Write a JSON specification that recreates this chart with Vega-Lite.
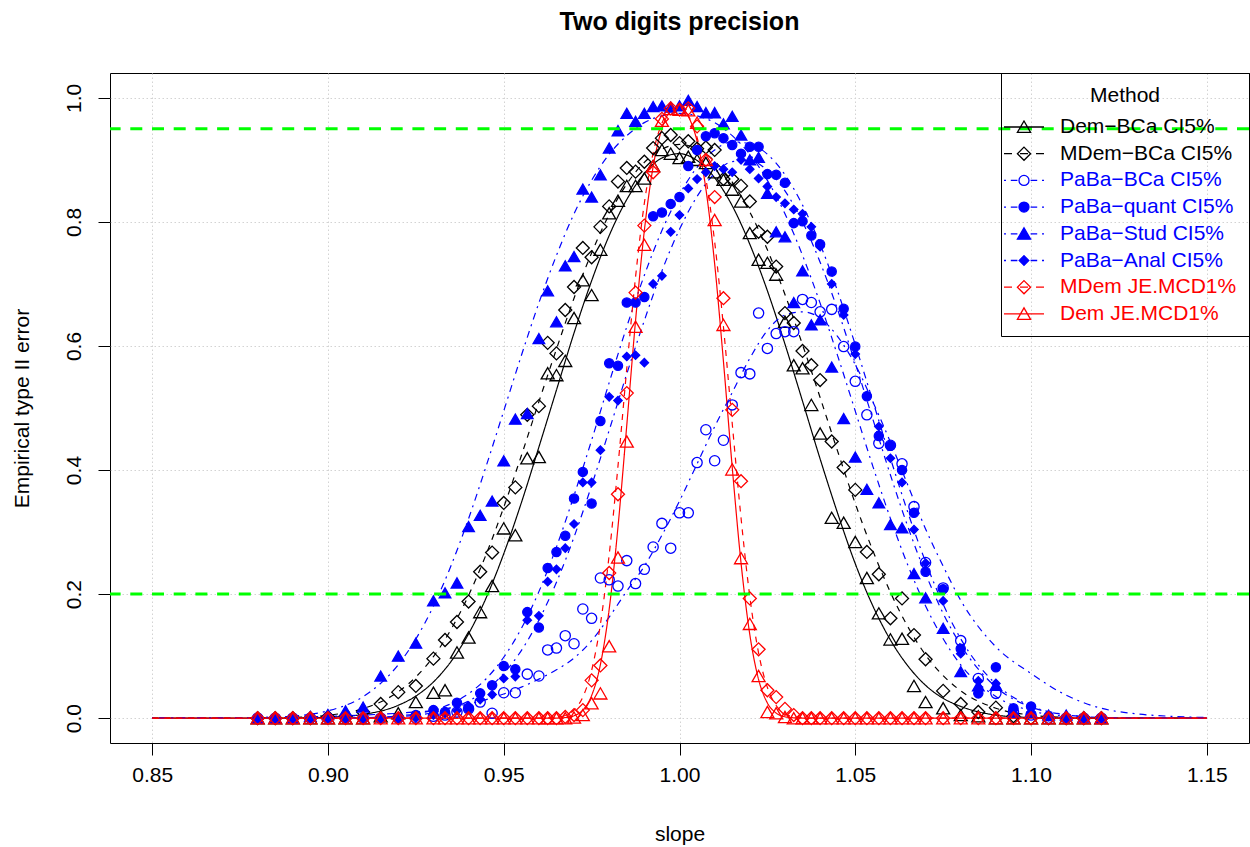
{
  "$schema": "https://vega.github.io/schema/vega-lite/v6.json",
  "width": 1139,
  "height": 670,
  "autosize": {"type": "none"},
  "padding": {"left": 110, "top": 73, "right": 1, "bottom": 104},
  "background": "white",
  "title": {"text": "Two digits precision", "fontSize": 25, "fontWeight": "bold", "font": "Liberation Sans", "color": "black", "anchor": "middle", "frame": "group", "baseline": "alphabetic", "offset": 18},
  "datasets": {
    "pts": [
      {"x":0.88,"a":0,"b":0,"c":0,"d":0,"e":0,"f":0,"g":0,"h":0},
      {"x":0.885,"a":0,"b":0,"c":0,"d":0,"e":0,"f":0,"g":0,"h":0},
      {"x":0.89,"a":0,"b":0,"c":0,"d":0,"e":0,"f":0,"g":0,"h":0},
      {"x":0.895,"a":0,"b":0,"c":0,"d":0,"e":0.003,"f":0,"g":0,"h":0},
      {"x":0.9,"a":0,"b":0.002,"c":0,"d":0,"e":0.006,"f":0,"g":0,"h":0},
      {"x":0.905,"a":0,"b":0.003,"c":0,"d":0,"e":0.012,"f":0,"g":0,"h":0},
      {"x":0.91,"a":0,"b":0.01,"c":0,"d":0,"e":0.018,"f":0,"g":0,"h":0},
      {"x":0.915,"a":0.003,"b":0.023,"c":0,"d":0,"e":0.068,"f":0,"g":0,"h":0},
      {"x":0.92,"a":0.008,"b":0.042,"c":0,"d":0,"e":0.1,"f":0,"g":0,"h":0},
      {"x":0.925,"a":0.026,"b":0.052,"c":0,"d":0.005,"e":0.121,"f":0,"g":0,"h":0},
      {"x":0.93,"a":0.041,"b":0.096,"c":0.003,"d":0.013,"e":0.189,"f":0.005,"g":0,"h":0},
      {"x":0.9333,"a":0.045,"b":0.126,"c":0.005,"d":0.01,"e":0.202,"f":0.008,"g":0,"h":0},
      {"x":0.9367,"a":0.106,"b":0.155,"c":0.01,"d":0.025,"e":0.218,"f":0.012,"g":0,"h":0},
      {"x":0.94,"a":0.13,"b":0.188,"c":0.015,"d":0.016,"e":0.309,"f":0.02,"g":0,"h":0},
      {"x":0.9433,"a":0.171,"b":0.236,"c":0.026,"d":0.04,"e":0.327,"f":0.03,"g":0,"h":0},
      {"x":0.9467,"a":0.213,"b":0.267,"c":0.008,"d":0.053,"e":0.35,"f":0.038,"g":0,"h":0},
      {"x":0.95,"a":0.306,"b":0.347,"c":0.041,"d":0.084,"e":0.415,"f":0.064,"g":0,"h":0},
      {"x":0.9533,"a":0.295,"b":0.372,"c":0.041,"d":0.079,"e":0.482,"f":0.067,"g":0,"h":0},
      {"x":0.9567,"a":0.419,"b":0.489,"c":0.071,"d":0.171,"e":0.491,"f":0.158,"g":0,"h":0},
      {"x":0.96,"a":0.421,"b":0.503,"c":0.068,"d":0.146,"e":0.612,"f":0.165,"g":0,"h":0},
      {"x":0.9625,"a":0.556,"b":0.605,"c":0.11,"d":0.242,"e":0.689,"f":0.22,"g":0,"h":0},
      {"x":0.965,"a":0.553,"b":0.588,"c":0.113,"d":0.268,"e":0.639,"f":0.24,"g":0,"h":0},
      {"x":0.9675,"a":0.576,"b":0.658,"c":0.133,"d":0.294,"e":0.729,"f":0.274,"g":0.002,"h":0},
      {"x":0.97,"a":0.645,"b":0.695,"c":0.12,"d":0.354,"e":0.744,"f":0.313,"g":0.005,"h":0.001},
      {"x":0.9725,"a":0.706,"b":0.758,"c":0.176,"d":0.397,"e":0.853,"f":0.38,"g":0.013,"h":0.005},
      {"x":0.975,"a":0.682,"b":0.743,"c":0.161,"d":0.346,"e":0.84,"f":0.38,"g":0.061,"h":0.024},
      {"x":0.9775,"a":0.755,"b":0.792,"c":0.226,"d":0.479,"e":0.876,"f":0.432,"g":0.085,"h":0.04},
      {"x":0.98,"a":0.814,"b":0.825,"c":0.223,"d":0.572,"e":0.919,"f":0.518,"g":0.234,"h":0.116},
      {"x":0.9825,"a":0.834,"b":0.865,"c":0.213,"d":0.568,"e":0.947,"f":0.512,"g":0.361,"h":0.259},
      {"x":0.985,"a":0.858,"b":0.887,"c":0.254,"d":0.67,"e":0.975,"f":0.583,"g":0.524,"h":0.446},
      {"x":0.9875,"a":0.858,"b":0.881,"c":0.217,"d":0.67,"e":0.962,"f":0.585,"g":0.686,"h":0.631},
      {"x":0.99,"a":0.87,"b":0.897,"c":0.24,"d":0.679,"e":0.975,"f":0.573,"g":0.794,"h":0.763},
      {"x":0.9925,"a":0.89,"b":0.919,"c":0.276,"d":0.809,"e":0.986,"f":0.7,"g":0.88,"h":0.89},
      {"x":0.995,"a":0.916,"b":0.935,"c":0.314,"d":0.815,"e":0.987,"f":0.713,"g":0.966,"h":0.963},
      {"x":0.9975,"a":0.91,"b":0.94,"c":0.274,"d":0.829,"e":0.985,"f":0.784,"g":0.983,"h":0.982},
      {"x":1.0,"a":0.903,"b":0.927,"c":0.331,"d":0.84,"e":0.987,"f":0.811,"g":0.981,"h":0.981},
      {"x":1.0025,"a":0.905,"b":0.93,"c":0.331,"d":0.89,"e":0.996,"f":0.854,"g":0.983,"h":0.98},
      {"x":1.005,"a":0.9,"b":0.918,"c":0.412,"d":0.916,"e":0.986,"f":0.869,"g":0.954,"h":0.96},
      {"x":1.0075,"a":0.895,"b":0.92,"c":0.465,"d":0.938,"e":0.976,"f":0.88,"g":0.9,"h":0.9},
      {"x":1.01,"a":0.88,"b":0.916,"c":0.415,"d":0.943,"e":0.976,"f":0.89,"g":0.84,"h":0.803},
      {"x":1.0125,"a":0.868,"b":0.869,"c":0.448,"d":0.935,"e":0.958,"f":0.885,"g":0.677,"h":0.634},
      {"x":1.015,"a":0.852,"b":0.869,"c":0.505,"d":0.924,"e":0.97,"f":0.88,"g":0.497,"h":0.401},
      {"x":1.0175,"a":0.833,"b":0.858,"c":0.557,"d":0.91,"e":0.94,"f":0.9,"g":0.382,"h":0.258},
      {"x":1.02,"a":0.782,"b":0.833,"c":0.555,"d":0.921,"e":0.9,"f":0.885,"g":0.193,"h":0.152},
      {"x":1.0225,"a":0.739,"b":0.784,"c":0.653,"d":0.921,"e":0.904,"f":0.87,"g":0.111,"h":0.068},
      {"x":1.025,"a":0.734,"b":0.776,"c":0.596,"d":0.877,"e":0.846,"f":0.857,"g":0.045,"h":0.01},
      {"x":1.0275,"a":0.715,"b":0.728,"c":0.62,"d":0.876,"e":0.784,"f":0.84,"g":0.034,"h":0.008},
      {"x":1.03,"a":0.639,"b":0.653,"c":0.623,"d":0.863,"e":0.776,"f":0.83,"g":0.015,"h":0.002},
      {"x":1.0325,"a":0.569,"b":0.637,"c":0.623,"d":0.798,"e":0.67,"f":0.82,"g":0.005,"h":0},
      {"x":1.035,"a":0.564,"b":0.592,"c":0.675,"d":0.801,"e":0.721,"f":0.813,"g":0,"h":0},
      {"x":1.0375,"a":0.505,"b":0.569,"c":0.67,"d":0.778,"e":0.634,"f":0.792,"g":0,"h":0},
      {"x":1.04,"a":0.459,"b":0.545,"c":0.655,"d":0.764,"e":0.642,"f":0.76,"g":0,"h":0},
      {"x":1.0433,"a":0.323,"b":0.446,"c":0.659,"d":0.72,"e":0.566,"f":0.7,"g":0,"h":0},
      {"x":1.0467,"a":0.315,"b":0.404,"c":0.599,"d":0.66,"e":0.483,"f":0.65,"g":0,"h":0},
      {"x":1.05,"a":0.284,"b":0.368,"c":0.543,"d":0.599,"e":0.421,"f":0.587,"g":0,"h":0},
      {"x":1.0533,"a":0.226,"b":0.268,"c":0.489,"d":0.519,"e":0.369,"f":0.52,"g":0,"h":0},
      {"x":1.0567,"a":0.169,"b":0.232,"c":0.443,"d":0.455,"e":0.347,"f":0.47,"g":0,"h":0},
      {"x":1.06,"a":0.127,"b":0.161,"c":0.44,"d":0.439,"e":0.312,"f":0.419,"g":0,"h":0},
      {"x":1.0633,"a":0.128,"b":0.193,"c":0.41,"d":0.4,"e":0.307,"f":0.38,"g":0,"h":0},
      {"x":1.0667,"a":0.052,"b":0.134,"c":0.341,"d":0.331,"e":0.233,"f":0.304,"g":0,"h":0},
      {"x":1.07,"a":0.026,"b":0.095,"c":0.251,"d":0.236,"e":0.194,"f":0.25,"g":0,"h":0},
      {"x":1.075,"a":0.016,"b":0.044,"c":0.21,"d":0.208,"e":0.145,"f":0.189,"g":0,"h":0},
      {"x":1.08,"a":0.005,"b":0.023,"c":0.125,"d":0.112,"e":0.075,"f":0.104,"g":0,"h":0},
      {"x":1.085,"a":0.003,"b":0.01,"c":0.064,"d":0.04,"e":0.052,"f":0.06,"g":0,"h":0},
      {"x":1.09,"a":0,"b":0.017,"c":0.04,"d":0.082,"e":0.053,"f":0.056,"g":0,"h":0},
      {"x":1.095,"a":0,"b":0.003,"c":0.01,"d":0.016,"e":0.01,"f":0.015,"g":0,"h":0},
      {"x":1.1,"a":0,"b":0,"c":0.005,"d":0.019,"e":0.01,"f":0.01,"g":0,"h":0},
      {"x":1.105,"a":0,"b":0,"c":0,"d":0.003,"e":0.005,"f":0.003,"g":0,"h":0},
      {"x":1.11,"a":0,"b":0,"c":0,"d":0,"e":0.005,"f":0,"g":0,"h":0},
      {"x":1.115,"a":0,"b":0,"c":0,"d":0,"e":0.002,"f":0,"g":0,"h":0},
      {"x":1.12,"a":0,"b":0,"c":0,"d":0,"e":0,"f":0,"g":0,"h":0}
    ],
    "lns": [
      {"x":0.85,"a":0,"b":0,"c":0,"d":0,"e":0,"f":0,"g":0,"h":0},
      {"x":0.86,"a":0,"b":0,"c":0,"d":0,"e":0,"f":0,"g":0,"h":0},
      {"x":0.87,"a":0,"b":0,"c":0,"d":0,"e":0.0001,"f":0,"g":0,"h":0},
      {"x":0.88,"a":0,"b":0.0003,"c":0.001,"d":0,"e":0.0008,"f":0,"g":0,"h":0},
      {"x":0.89,"a":0.0003,"b":0.0012,"c":0.002,"d":0,"e":0.0033,"f":0,"g":0,"h":0},
      {"x":0.9,"a":0.0015,"b":0.0047,"c":0.003,"d":0.0001,"e":0.0118,"f":0.0001,"g":0,"h":0},
      {"x":0.91,"a":0.0061,"b":0.0154,"c":0.005,"d":0.0008,"e":0.0348,"f":0.0005,"g":0,"h":0},
      {"x":0.92,"a":0.0208,"b":0.0425,"c":0.008,"d":0.0036,"e":0.0863,"f":0.0023,"g":0,"h":0},
      {"x":0.925,"a":0.0357,"b":0.0663,"c":0.01,"d":0.007,"e":0.1276,"f":0.0046,"g":0,"h":0},
      {"x":0.93,"a":0.0584,"b":0.0992,"c":0.012,"d":0.0131,"e":0.1806,"f":0.0088,"g":0,"h":0},
      {"x":0.935,"a":0.0913,"b":0.143,"c":0.017,"d":0.0233,"e":0.2457,"f":0.016,"g":0,"h":0},
      {"x":0.94,"a":0.136,"b":0.198,"c":0.023,"d":0.0395,"e":0.3217,"f":0.0276,"g":0,"h":0},
      {"x":0.945,"a":0.194,"b":0.264,"c":0.03,"d":0.0636,"e":0.4063,"f":0.0457,"g":0,"h":0},
      {"x":0.95,"a":0.265,"b":0.34,"c":0.039,"d":0.0982,"e":0.4952,"f":0.0721,"g":0,"h":0},
      {"x":0.955,"a":0.347,"b":0.423,"c":0.05,"d":0.1446,"e":0.5843,"f":0.109,"g":0,"h":0},
      {"x":0.96,"a":0.437,"b":0.51,"c":0.063,"d":0.204,"e":0.6693,"f":0.158,"g":0,"h":0},
      {"x":0.965,"a":0.529,"b":0.595,"c":0.078,"d":0.276,"e":0.746,"f":0.219,"g":0.0013,"h":0.0002},
      {"x":0.97,"a":0.621,"b":0.677,"c":0.097,"d":0.359,"e":0.813,"f":0.292,"g":0.0132,"h":0.004},
      {"x":0.975,"a":0.705,"b":0.75,"c":0.125,"d":0.448,"e":0.867,"f":0.375,"g":0.0768,"h":0.0364},
      {"x":0.98,"a":0.778,"b":0.812,"c":0.163,"d":0.541,"e":0.909,"f":0.464,"g":0.2634,"h":0.1757},
      {"x":0.985,"a":0.836,"b":0.861,"c":0.205,"d":0.631,"e":0.939,"f":0.555,"g":0.5636,"h":0.472},
      {"x":0.99,"a":0.878,"b":0.896,"c":0.245,"d":0.714,"e":0.96,"f":0.641,"g":0.83,"h":0.786},
      {"x":0.995,"a":0.903,"b":0.917,"c":0.295,"d":0.786,"e":0.971,"f":0.721,"g":0.959,"h":0.95},
      {"x":1.0,"a":0.91,"b":0.925,"c":0.35,"d":0.844,"e":0.975,"f":0.788,"g":0.984,"h":0.985},
      {"x":1.005,"a":0.899,"b":0.918,"c":0.41,"d":0.888,"e":0.971,"f":0.841,"g":0.936,"h":0.93},
      {"x":1.01,"a":0.871,"b":0.898,"c":0.47,"d":0.916,"e":0.96,"f":0.878,"g":0.768,"h":0.7324},
      {"x":1.015,"a":0.826,"b":0.864,"c":0.525,"d":0.929,"e":0.939,"f":0.897,"g":0.475,"h":0.4044},
      {"x":1.02,"a":0.764,"b":0.816,"c":0.58,"d":0.926,"e":0.909,"f":0.899,"g":0.196,"h":0.1348},
      {"x":1.025,"a":0.689,"b":0.755,"c":0.625,"d":0.909,"e":0.867,"f":0.883,"g":0.0496,"h":0.0246},
      {"x":1.03,"a":0.603,"b":0.683,"c":0.65,"d":0.876,"e":0.813,"f":0.85,"g":0.0073,"h":0.0023},
      {"x":1.035,"a":0.511,"b":0.602,"c":0.655,"d":0.827,"e":0.746,"f":0.8,"g":0.0006,"h":0.0001},
      {"x":1.04,"a":0.418,"b":0.517,"c":0.645,"d":0.764,"e":0.669,"f":0.735,"g":0,"h":0},
      {"x":1.045,"a":0.33,"b":0.43,"c":0.615,"d":0.688,"e":0.584,"f":0.658,"g":0,"h":0},
      {"x":1.05,"a":0.249,"b":0.346,"c":0.57,"d":0.602,"e":0.495,"f":0.572,"g":0,"h":0},
      {"x":1.055,"a":0.181,"b":0.27,"c":0.51,"d":0.511,"e":0.406,"f":0.482,"g":0,"h":0},
      {"x":1.06,"a":0.126,"b":0.203,"c":0.445,"d":0.419,"e":0.322,"f":0.392,"g":0,"h":0},
      {"x":1.065,"a":0.084,"b":0.147,"c":0.375,"d":0.331,"e":0.246,"f":0.308,"g":0,"h":0},
      {"x":1.07,"a":0.053,"b":0.102,"c":0.305,"d":0.252,"e":0.181,"f":0.233,"g":0,"h":0},
      {"x":1.075,"a":0.032,"b":0.0686,"c":0.245,"d":0.1835,"e":0.128,"f":0.169,"g":0,"h":0},
      {"x":1.08,"a":0.019,"b":0.0441,"c":0.19,"d":0.128,"e":0.086,"f":0.118,"g":0,"h":0},
      {"x":1.09,"a":0.005,"b":0.0161,"c":0.115,"d":0.055,"e":0.035,"f":0.0502,"g":0,"h":0},
      {"x":1.1,"a":0.001,"b":0.005,"c":0.072,"d":0.0195,"e":0.012,"f":0.0179,"g":0,"h":0},
      {"x":1.11,"a":0,"b":0.0013,"c":0.037,"d":0.0057,"e":0.003,"f":0.0053,"g":0,"h":0},
      {"x":1.12,"a":0,"b":0.0003,"c":0.016,"d":0.0014,"e":0.001,"f":0.0013,"g":0,"h":0},
      {"x":1.13,"a":0,"b":0,"c":0.007,"d":0.0002,"e":0,"f":0.0003,"g":0,"h":0},
      {"x":1.14,"a":0,"b":0,"c":0.003,"d":0,"e":0,"f":0,"g":0,"h":0},
      {"x":1.15,"a":0,"b":0,"c":0.001,"d":0,"e":0,"f":0,"g":0,"h":0},
      {"x":0.9675,"g":0.0044,"h":0.001},
      {"x":0.9725,"g":0.0341,"h":0.013},
      {"x":0.9775,"g":0.1515,"h":0.0865},
      {"x":0.9825,"g":0.4063,"h":0.3082},
      {"x":0.9875,"g":0.7112,"h":0.641},
      {"x":0.9925,"g":0.911,"h":0.889},
      {"x":0.9975,"g":0.981,"h":0.979},
      {"x":1.0025,"g":0.971,"h":0.97},
      {"x":1.0075,"g":0.87,"h":0.8534},
      {"x":1.0125,"g":0.631,"h":0.575},
      {"x":1.0175,"g":0.323,"h":0.2505},
      {"x":1.0225,"g":0.105,"h":0.0623},
      {"x":1.0275,"g":0.0204,"h":0.0082},
      {"x":1.0325,"g":0.0023,"h":0.0006}
    ],
    "ref": [{"value": 0.95}, {"value": 0.2}]
  },
  "layer": [
    {
      "data": {"name": "lns"},
      "transform": [
        {"fold": ["a","b","c","d","e","f","g","h"], "as": ["key","value"]},
        {"filter": "isValid(datum.value)"}
      ],
      "mark": {"type": "line", "interpolate": "monotone", "strokeWidth": 1.2, "clip": true},
      "encoding": {
        "x": {"field": "x", "type": "quantitative",
              "scale": {"domain": [0.838, 1.162], "nice": false, "zero": false},
              "axis": {"title": "slope", "values": [0.85,0.9,0.95,1.0,1.05,1.1,1.15], "format": ".2f", "grid": true, "labelPadding": 9, "labelBaseline": "top", "titleX": 569.5, "titleY": 97, "titleBaseline": "alphabetic", "titleAnchor": null}},
        "y": {"field": "value", "type": "quantitative",
              "scale": {"domain": [-0.04, 1.04], "nice": false, "zero": false},
              "axis": {"title": "Empirical type II error", "values": [0,0.2,0.4,0.6,0.8,1.0], "format": ".1f", "grid": true, "labelAngle": 270, "labelAlign": "center", "labelBaseline": "alphabetic", "labelPadding": 18, "titleX": -82, "titleY": 335, "titleAngle": 270, "titleAlign": "center", "titleBaseline": "alphabetic"}},
        "color": {"field": "key", "type": "nominal",
                  "scale": {"domain": ["h","g","f","e","d","c","b","a"], "range": ["#ff0000","#ff0000","#0000ff","#0000ff","#0000ff","#0000ff","#000000","#000000"]},
                  "legend": null},
        "strokeDash": {"field": "key", "type": "nominal",
                       "scale": {"domain": ["h","g","f","e","d","c","b","a"], "range": [[1,0],[6,6],[2,5,7,5],[2,5,7,5],[2,5,7,5],[2,5,7,5],[6,6],[1,0]]},
                       "legend": null}
      }
    },
    {
      "data": {"name": "pts"},
      "transform": [
        {"fold": ["a","b","c","d","e","f","g","h"], "as": ["key","value"]},
        {"filter": "isValid(datum.value)"}
      ],
      "mark": {"type": "point", "strokeWidth": 1.3, "opacity": 1, "filled": false, "clip": true},
      "encoding": {
        "x": {"field": "x", "type": "quantitative", "title": "slope"},
        "y": {"field": "value", "type": "quantitative", "title": "Empirical type II error"},
        "order": {"field": "key", "type": "nominal"},
        "stroke": {"field": "key", "type": "nominal",
                   "scale": {"domain": ["a","b","c","d","e","f","g","h"], "range": ["#000000","#000000","#0000ff","#0000ff","#0000ff","#0000ff","#ff0000","#ff0000"]},
                   "legend": {
                     "title": "Method", "orient": "top-right", "offset": 0, "padding": 12,
                     "strokeColor": "black",
                     "titleFont": "Liberation Sans", "titleFontSize": 21, "titleFontWeight": "normal", "titleColor": "black", "titleAnchor": "middle", "titlePadding": 10,
                     "labelFont": "Liberation Sans", "labelFontSize": 21, "labelOffset": 25, "labelLimit": 400,
                     "rowPadding": 5.7, "symbolSize": 400, "symbolStrokeWidth": 1.3,
                     "labelExpr": "datum.value=='a' ? 'Dem−BCa CI5%' : datum.value=='b' ? 'MDem−BCa CI5%' : datum.value=='c' ? 'PaBa−BCa CI5%' : datum.value=='d' ? 'PaBa−quant CI5%' : datum.value=='e' ? 'PaBa−Stud CI5%' : datum.value=='f' ? 'PaBa−Anal CI5%' : datum.value=='g' ? 'MDem JE.MCD1%' : 'Dem JE.MCD1%'",
                     "labelColor": {"expr": "(datum.value=='a'||datum.value=='b') ? '#000000' : ((datum.value=='g'||datum.value=='h') ? '#ff0000' : '#0000ff')"},
                     "symbolType": {"expr": "datum.value=='a' ? 'M-2,0H2M0,-0.6L0.66,0.54L-0.66,0.54Z' : datum.value=='b' ? 'M-2,0H-1.2M-0.4,0H0.4M1.2,0H2M0,-0.66L0.66,0L0,0.66L-0.66,0Z' : datum.value=='c' ? 'M-2,0H-1.8M-1.32,0H-0.66M0.66,0H1.32M1.8,0H2M-0.5,0A0.5,0.5,0,1,0,0.5,0A0.5,0.5,0,1,0,-0.5,0Z' : datum.value=='d' ? 'M-2,0H-1.8M-1.32,0H-0.66M0.66,0H1.32M1.8,0H2M-0.5,0A0.5,0.5,0,1,0,0.5,0A0.5,0.5,0,1,0,-0.5,0Z' : datum.value=='e' ? 'M-2,0H-1.8M-1.32,0H-0.66M0.66,0H1.32M1.8,0H2M0,-0.6L0.66,0.54L-0.66,0.54Z' : datum.value=='f' ? 'M-2,0H-1.8M-1.32,0H-0.66M0.66,0H1.32M1.8,0H2M0,-0.48L0.48,0L0,0.48L-0.48,0Z' : datum.value=='g' ? 'M-2,0H-1.2M-0.4,0H0.4M1.2,0H2M0,-0.66L0.66,0L0,0.66L-0.66,0Z' : 'M-2,0H2M0,-0.6L0.66,0.54L-0.66,0.54Z'"},
                     "symbolFillColor": {"expr": "(datum.value=='d'||datum.value=='e'||datum.value=='f') ? '#0000ff' : 'transparent'"}
                   }},
        "fill": {"field": "key", "type": "nominal",
                 "scale": {"domain": ["h","g","f","e","d","c","b","a"], "range": ["transparent","transparent","#0000ff","#0000ff","#0000ff","transparent","transparent","transparent"]},
                 "legend": null},
        "shape": {"field": "key", "type": "nominal",
                  "scale": {"domain": ["h","g","f","e","d","c","b","a"], "range": ["triangle-up","diamond","diamond","triangle-up","circle","circle","diamond","triangle-up"]},
                  "legend": null},
        "size": {"field": "key", "type": "nominal",
                 "scale": {"type": "ordinal", "domain": ["h","g","f","e","d","c","b","a"], "range": [169,169,70,135,85,105,169,169]},
                 "legend": null}
      }
    },
    {
      "data": {"name": "ref"},
      "mark": {"type": "rule", "stroke": "#00ff00", "strokeWidth": 3, "strokeDash": [12, 9.7]},
      "encoding": {
        "y": {"field": "value", "type": "quantitative", "title": "Empirical type II error"}
      }
    }
  ],
  "config": {
    "view": {"stroke": "black", "strokeWidth": 1},
    "font": "Liberation Sans",
    "axis": {
      "labelFont": "Liberation Sans", "titleFont": "Liberation Sans",
      "labelFontSize": 21, "titleFontSize": 21, "titleFontWeight": "normal",
      "labelColor": "black", "titleColor": "black",
      "tickColor": "black", "tickSize": 12, "tickWidth": 1,
      "domain": false,
      "gridColor": "#d3d3d3", "gridDash": [1.5, 2.5], "gridWidth": 1,
      "labelOverlap": false, "labelFlush": false
    }
  }
}
